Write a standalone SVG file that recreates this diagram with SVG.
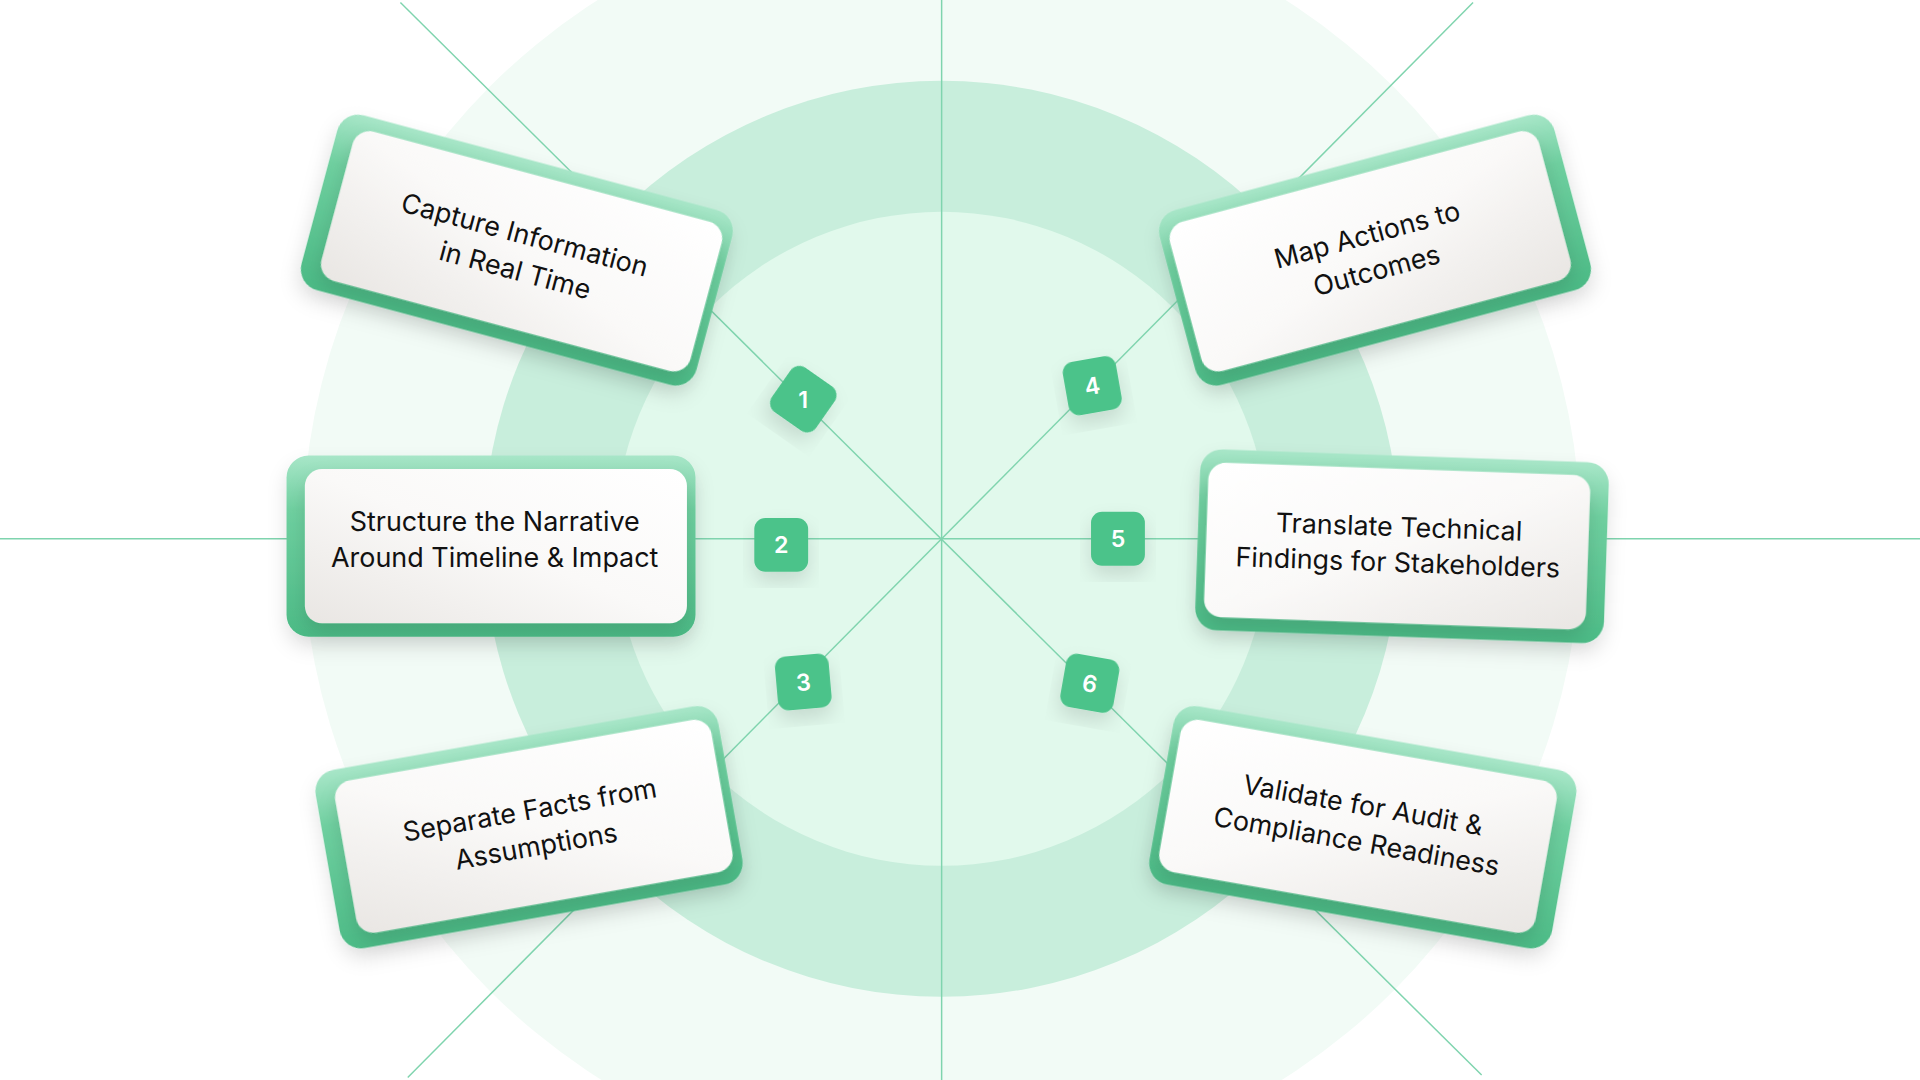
<svg xmlns="http://www.w3.org/2000/svg" width="1920" height="1080" viewBox="0 0 1920 1080">
<defs>
<linearGradient id="gr" x1="0" y1="0" x2="0" y2="1"><stop offset="0" stop-color="#a8e6c8"/><stop offset="0.3" stop-color="#6fd0a0"/><stop offset="1" stop-color="#4cbb86"/></linearGradient>
<linearGradient id="wh" x1="1" y1="0" x2="0" y2="1"><stop offset="0" stop-color="#ffffff"/><stop offset="0.5" stop-color="#faf9f8"/><stop offset="1" stop-color="#e9e6e3"/></linearGradient>
<filter id="sh" x="-20%" y="-20%" width="140%" height="150%"><feDropShadow dx="0" dy="8" stdDeviation="8" flood-color="#000" flood-opacity="0.12"/></filter>
<g id="card">
<rect x="-170" y="-74" width="334" height="148" rx="18" fill="url(#gr)" filter="url(#sh)"/>
<rect x="-155" y="-63" width="312" height="126" rx="14" fill="url(#wh)" filter="url(#sh)"/>
</g>
<g id="badge"><rect x="-22" y="-22" width="44" height="44" rx="9" fill="#4cc38a" filter="url(#sh)"/></g>
</defs>
<style>
.t{font-family:Inter,"Open Sans",sans-serif;font-size:22px;fill:#111;text-anchor:middle}
.n{font-family:Inter,"Open Sans",sans-serif;font-size:19px;font-weight:600;fill:#fff;text-anchor:middle}
.ln{stroke:#7fd4ae;stroke-width:1.2;fill:none}
</style>
<rect width="1920" height="1080" fill="#fff"/>
<g transform="scale(1.22449)">
<g id="bg">
<circle cx="769" cy="440" r="522" fill="#f2fbf6"/>
<circle cx="769" cy="440" r="374" fill="#c8eedc"/>
<circle cx="769" cy="440" r="267" fill="#e1f9ec"/>
</g>
<g id="connectors">
<line class="ln" x1="769" y1="0" x2="769" y2="882"/>
<line class="ln" x1="0" y1="440" x2="1568" y2="440"/>
<line class="ln" x1="327" y1="2" x2="1210" y2="878"/>
<line class="ln" x1="1203" y1="2" x2="333" y2="880"/>
</g>
<g id="card1" transform="translate(425,205) rotate(15)"><use href="#card"/><text class="t" y="-6">Capture Information</text><text class="t" y="24">in Real Time</text></g>
<g id="card2" transform="translate(404,446)"><use href="#card"/><text class="t" y="-12">Structure the Narrative</text><text class="t" y="17">Around Timeline &amp; Impact</text></g>
<g id="card3" transform="translate(435,675) rotate(-10)"><use href="#card"/><text class="t" y="-6">Separate Facts from</text><text class="t" y="24">Assumptions</text></g>
<g id="card4" transform="translate(1120,205) rotate(-15) scale(-1,1)"><use href="#card"/><g transform="scale(-1,1)"><text class="t" y="-6">Map Actions to</text><text class="t" y="24">Outcomes</text></g></g>
<g id="card5" transform="translate(1142,446) rotate(2) scale(-1,1)"><use href="#card"/><g transform="scale(-1,1)"><text class="t" y="-8">Translate Technical</text><text class="t" y="21">Findings for Stakeholders</text></g></g>
<g id="card6" transform="translate(1110,675) rotate(10) scale(-1,1)"><use href="#card"/><g transform="scale(-1,1)"><text class="t" y="-10">Validate for Audit &amp;</text><text class="t" y="20">Compliance Readiness</text></g></g>
<g id="b1" transform="translate(656,326) rotate(35)"><use href="#badge"/><text class="n" y="7" transform="rotate(-35)">1</text></g>
<g id="b2" transform="translate(638,445)"><use href="#badge"/><text class="n" y="7">2</text></g>
<g id="b3" transform="translate(656,557) rotate(-5)"><use href="#badge"/><text class="n" y="7">3</text></g>
<g id="b4" transform="translate(892,315) rotate(-10)"><use href="#badge"/><text class="n" y="7">4</text></g>
<g id="b5" transform="translate(913,440)"><use href="#badge"/><text class="n" y="7">5</text></g>
<g id="b6" transform="translate(890,558) rotate(10)"><use href="#badge"/><text class="n" y="7">6</text></g>
</g>
</svg>
